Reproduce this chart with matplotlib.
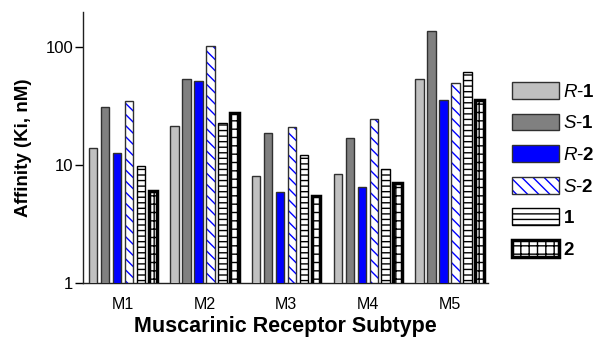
import numpy as np
import matplotlib
matplotlib.use('Agg')
import matplotlib.pyplot as plt
import matplotlib.patches as mpatches
from matplotlib.legend_handler import HandlerTuple

plt.rcParams['font.family'] = ['Liberation Sans', 'DejaVu Sans']
plt.rcParams['mathtext.fontset'] = 'custom'
plt.rcParams['mathtext.rm'] = 'Liberation Sans'
plt.rcParams['mathtext.it'] = 'Liberation Sans:italic'
plt.rcParams['mathtext.bf'] = 'Liberation Sans:bold'
plt.rcParams['hatch.linewidth'] = 1.0

subtypes = ['M1', 'M2', 'M3', 'M4', 'M5']
series = [r'$\it{R}$-$\bf{1}$', r'$\it{S}$-$\bf{1}$', r'$\it{R}$-$\bf{2}$',
          r'$\it{S}$-$\bf{2}$', r'$\bf{1}$', r'$\bf{2}$']

r1 = [14.1, 21.5, 8.1, 8.5, 54]
s1 = [31.2, 54, 18.9, 16.9, 137]
r2 = [12.6, 51.8, 5.9, 6.5, 35.8]
s2 = [34.9, 103, 21, 24.5, 50.3]
c1 = [9.8, 22.7, 12.3, 9.2, 62]
c2 = [6.0, 27.8, 5.5, 7.1, 35.5]
values = [r1, s1, r2, s2, c1, c2]

# (face, hatch, hatch color, edge color, edge width)
styles = [
    ('#c0c0c0', None, None, '#303030', 1.0),
    ('#808080', None, None, '#303030', 1.0),
    ('#0000ff', None, None, '#303030', 1.0),
    ('white', '\\\\\\', '#0000ff', '#303030', 1.0),
    ('white', '---', 'black', 'black', 1.0),
    ('white', '++', 'black', 'black', 2.5),
]

fig = plt.figure(figsize=(5.97, 3.39), dpi=100)
ax = fig.add_axes([0.139, 0.165, 0.678, 0.80])

x = np.arange(len(subtypes))
pitch = 0.147
width = 0.105
handles = []
for i, (vals, st) in enumerate(zip(values, styles)):
    face, hatch, hcol, ecol, lw = st
    pos = x + (i - 2.5) * pitch
    if hatch:
        ax.bar(pos, vals, width, facecolor=face, edgecolor=hcol,
               hatch=hatch, linewidth=0, zorder=2)
        ax.bar(pos, vals, width, facecolor='none', edgecolor=ecol,
               linewidth=lw, zorder=3)
        h = (mpatches.Patch(facecolor=face, edgecolor=hcol, hatch=hatch, linewidth=0),
             mpatches.Patch(facecolor='none', edgecolor=ecol, linewidth=lw))
    else:
        ax.bar(pos, vals, width, facecolor=face, edgecolor=ecol,
               linewidth=lw, zorder=3)
        h = mpatches.Patch(facecolor=face, edgecolor=ecol, linewidth=lw)
    handles.append(h)

ax.set_yscale('log')
ax.set_ylim(1, 200)
ax.set_xlim(-0.49, 4.47)
ax.set_yticks([1, 10, 100])
ax.set_yticklabels(['1', '10', '100'])
ax.yaxis.set_minor_locator(matplotlib.ticker.NullLocator())
ax.set_xticks(x)
ax.set_xticklabels(subtypes)
ax.tick_params(axis='x', length=0, labelsize=11.5, pad=10)
ax.tick_params(axis='y', length=6, width=1, labelsize=12, pad=1)
for s in ['top', 'right']:
    ax.spines[s].set_visible(False)
for s in ['left', 'bottom']:
    ax.spines[s].set_linewidth(1.0)
    ax.spines[s].set_color('#202020')

ax.set_xlabel('Muscarinic Receptor Subtype', fontsize=15.5, fontweight='bold', labelpad=3)
ax.set_ylabel('Affinity (Ki, nM)', fontsize=13.5, fontweight='bold', labelpad=10)

fig.legend(handles, series, loc='upper left', bbox_to_anchor=(0.857, 0.758),
           frameon=False, fontsize=13.5, handlelength=2.5, handleheight=1.0,
           labelspacing=0.68, handletextpad=0.25, borderaxespad=0, borderpad=0,
           handler_map={tuple: HandlerTuple(ndivide=1, pad=0)})

fig.savefig('out.png', dpi=100)
